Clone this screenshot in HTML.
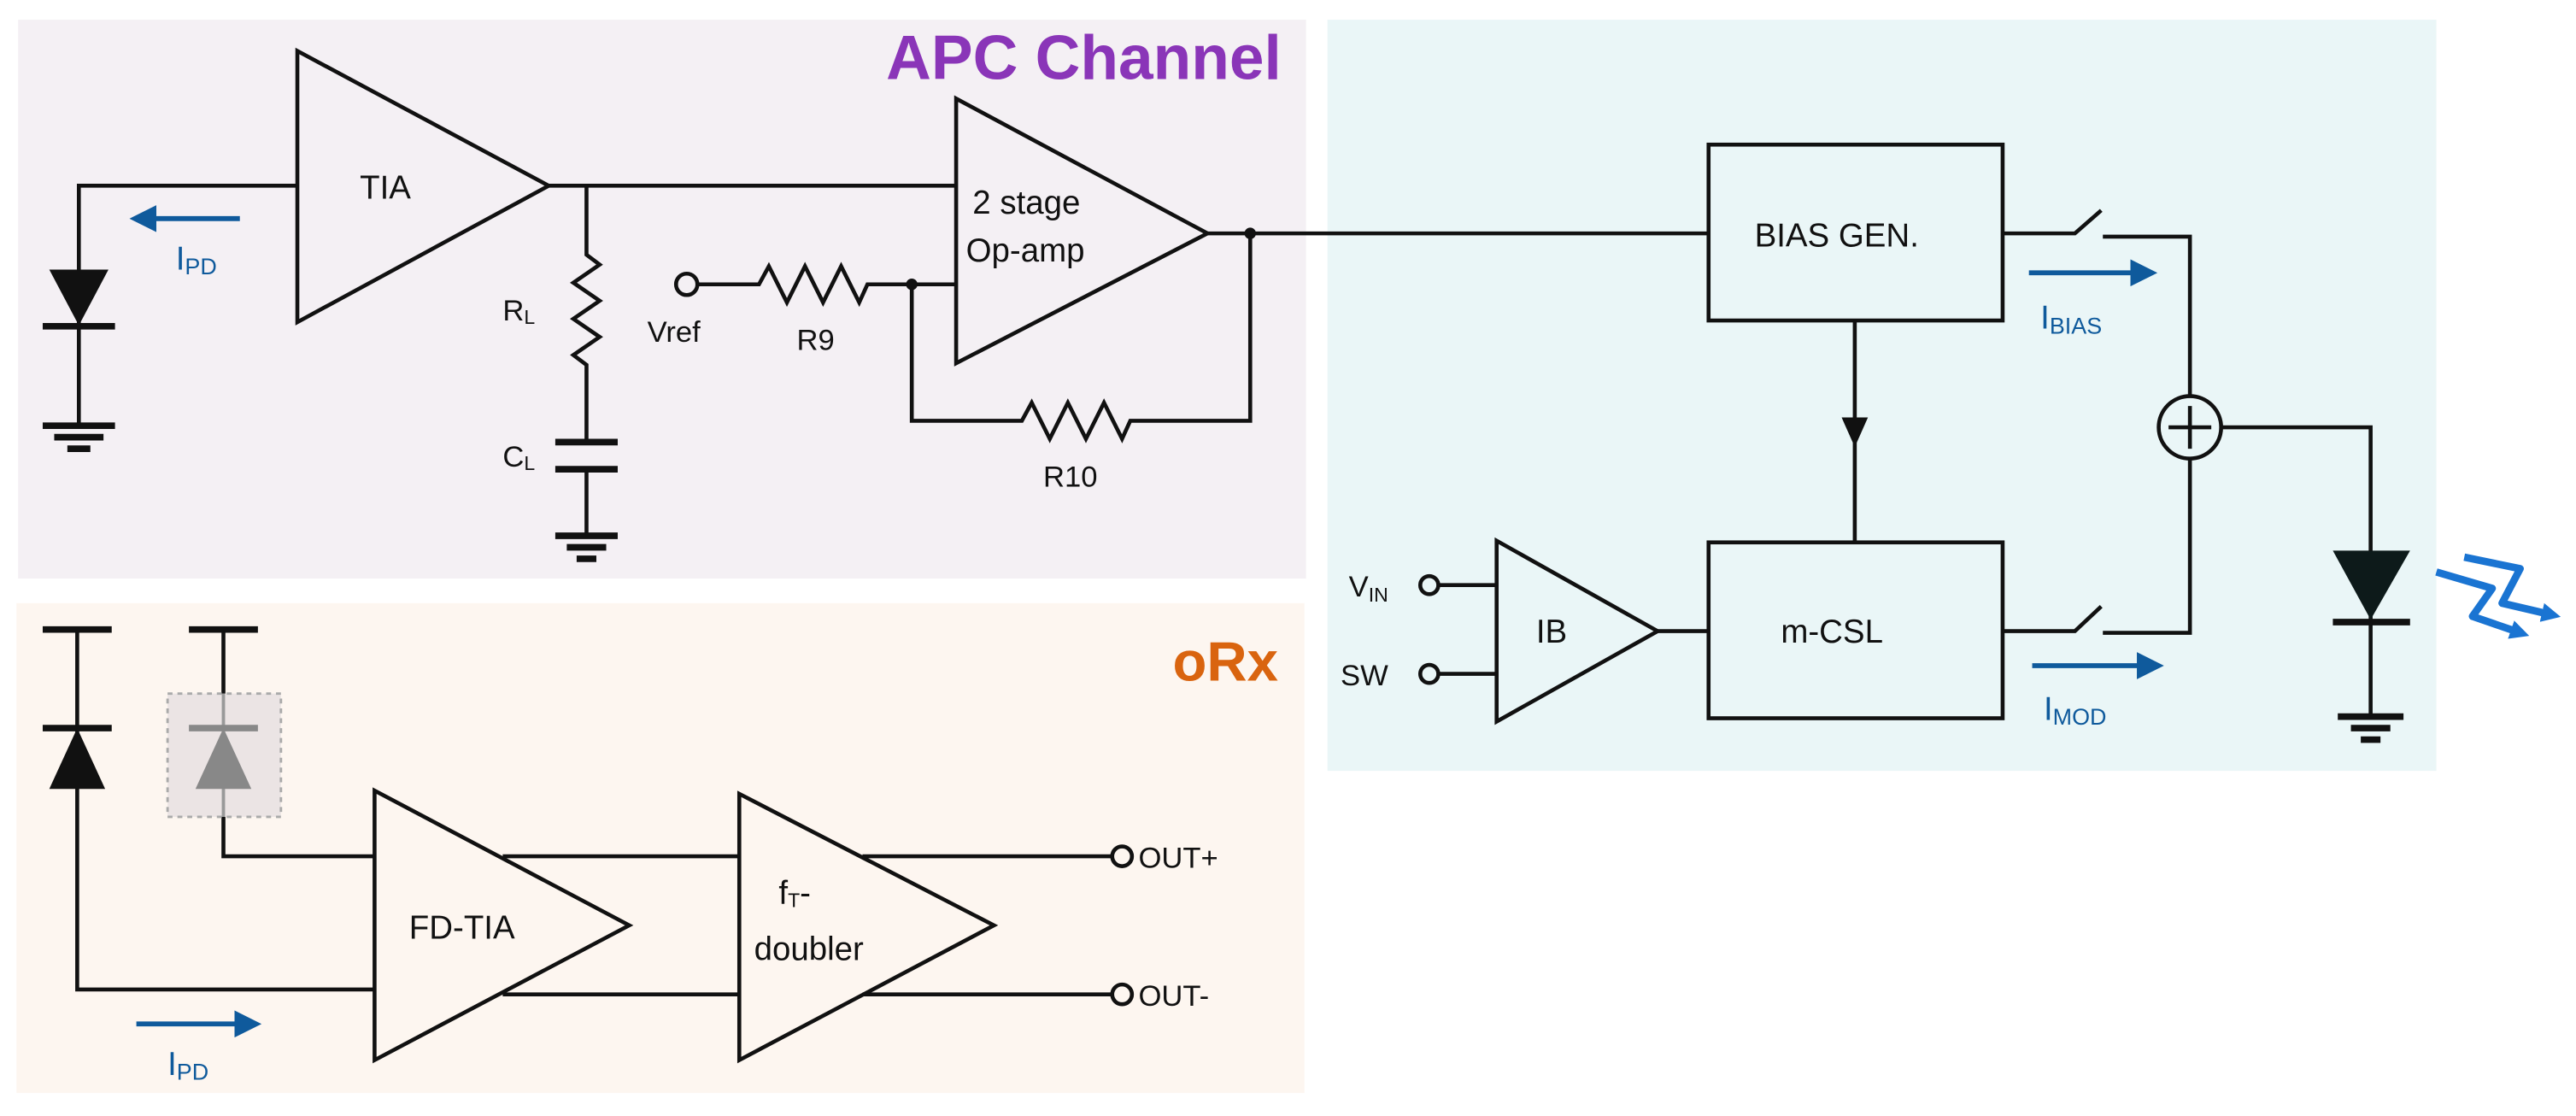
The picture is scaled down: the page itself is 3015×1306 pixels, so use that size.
<!DOCTYPE html>
<html><head><meta charset="utf-8"><style>
html,body{margin:0;padding:0;background:#fff;}
svg{display:block;}
text{font-family:"Liberation Sans Narrow","Liberation Sans",sans-serif;fill:#111;}
</style></head><body>
<svg width="3015" height="1306" viewBox="0 0 1568 679" preserveAspectRatio="none" xmlns="http://www.w3.org/2000/svg">
<defs>
<marker id="bh" viewBox="0 0 10 10" refX="2" refY="5" markerWidth="5.5" markerHeight="5.5" orient="auto" markerUnits="strokeWidth"><path d="M0,0 L10,5 L0,10 z" fill="#0f5a9c"/></marker>
<marker id="lh" viewBox="0 0 10 10" refX="5" refY="5" markerWidth="2.6" markerHeight="2.6" orient="auto" markerUnits="strokeWidth"><path d="M0,0 L10,5 L0,10 z" fill="#1a74d2"/></marker>
</defs>
<rect x="11" y="12" width="784" height="340" fill="#f4f0f4"/>
<rect x="10" y="367" width="784" height="298" fill="#fdf6f0"/>
<rect x="808" y="12" width="675" height="457" fill="#eaf6f7"/>
<text x="780" y="48" text-anchor="end" style="font-family:'Liberation Sans',sans-serif;font-weight:bold;font-size:38px;fill:#8a35b8">APC Channel</text>
<text x="778" y="414" text-anchor="end" style="font-family:'Liberation Sans',sans-serif;font-weight:bold;font-size:34px;fill:#d9640f">oRx</text>

<g stroke="#111" stroke-width="2.4" fill="none">
<polyline points="48,259 48,113 181,113"/>
<polygon points="181,31 181,196 334,113"/>
<line x1="334" y1="113" x2="582" y2="113"/>
<polyline points="357,113 357,155 365,161 349,172 365,183 349,194 365,205 349,216 357,222 357,269"/>
<line x1="357" y1="285" x2="357" y2="326"/>
<polygon points="582,60 582,221 735,142"/>
<circle cx="418" cy="173" r="6.5"/>
<polyline points="424,173 462,173 468,162 479,184 490,162 501,184 512,162 523,184 528,173 582,173"/>
<polyline points="555,173 555,256 622,256 628,245 639,267 650,245 661,267 672,245 683,267 688,256 761,256 761,142"/>
<line x1="735" y1="142" x2="1040" y2="142"/>
<rect x="1040" y="88" width="179" height="107"/>
<rect x="1040" y="330" width="179" height="107"/>
<line x1="1129" y1="195" x2="1129" y2="330"/>
<polyline points="1219,142 1263,142 1279,128"/>
<polyline points="1280,144 1333,144 1333,240"/>
<circle cx="1333" cy="260" r="19"/>
<line x1="1320" y1="260" x2="1346" y2="260"/>
<line x1="1333" y1="247" x2="1333" y2="273"/>
<polyline points="1352,260 1443,260 1443,436"/>
<polyline points="1219,384 1263,384 1279,369"/>
<polyline points="1280,385 1333,385 1333,279"/>
<polygon points="911,329 911,439 1009,384"/>
<line x1="1009" y1="384" x2="1040" y2="384"/>
<circle cx="870" cy="356" r="5.5"/>
<circle cx="870" cy="410" r="5.5"/>
<line x1="876" y1="356" x2="911" y2="356"/>
<line x1="876" y1="410" x2="911" y2="410"/>
<polyline points="47,383 47,602 228,602"/>
<line x1="136" y1="383" x2="136" y2="443"/>
<polyline points="136,497 136,521 228,521"/>
<polygon points="228,481 228,645 383,563"/>
<line x1="306" y1="521" x2="450" y2="521"/>
<line x1="306" y1="605" x2="450" y2="605"/>
<polygon points="450,483 450,645 605,563"/>
<line x1="525" y1="521" x2="677" y2="521"/>
<line x1="525" y1="605" x2="677" y2="605"/>
<circle cx="683" cy="521" r="6"/>
<circle cx="683" cy="605" r="6"/>
</g>
<g stroke="#111" stroke-width="4" fill="none">
<line x1="26" y1="198.5" x2="70" y2="198.5"/>
<line x1="26" y1="259" x2="70" y2="259"/>
<line x1="33" y1="266" x2="63" y2="266"/>
<line x1="41" y1="273" x2="55" y2="273"/>
<line x1="338" y1="269" x2="376" y2="269"/>
<line x1="338" y1="285.5" x2="376" y2="285.5"/>
<line x1="338" y1="326" x2="376" y2="326"/>
<line x1="345" y1="333" x2="369" y2="333"/>
<line x1="351" y1="340" x2="363" y2="340"/>
<line x1="1420" y1="378.5" x2="1467" y2="378.5"/>
<line x1="1423" y1="436" x2="1463" y2="436"/>
<line x1="1431" y1="443" x2="1455" y2="443"/>
<line x1="1437" y1="450" x2="1449" y2="450"/>
<line x1="26" y1="383" x2="68" y2="383"/>
<line x1="26" y1="443" x2="68" y2="443"/>
<line x1="115" y1="383" x2="157" y2="383"/>
</g>
<polygon points="30,164 66,164 48,198" fill="#111"/>
<polygon points="1420,335 1467,335 1443,377" fill="#0d1a1a"/>
<polygon points="30,480 64,480 47,443" fill="#111"/>
<polygon points="1129,272 1121,254 1137,254" fill="#111"/>
<circle cx="555" cy="173" r="3.5" fill="#111"/>
<circle cx="761" cy="142" r="3.5" fill="#111"/>
<rect x="102" y="422" width="69" height="75" fill="#ebe4e4" stroke="#aaa" stroke-width="1.5" stroke-dasharray="3,3"/>
<line x1="136" y1="422" x2="136" y2="497" stroke="#999" stroke-width="2"/>
<line x1="115" y1="443" x2="157" y2="443" stroke="#888" stroke-width="4"/>
<polygon points="119,480 153,480 136,443" fill="#888"/>
<g stroke="#0f5a9c" stroke-width="3" fill="none">
<line x1="146" y1="133" x2="92" y2="133" marker-end="url(#bh)"/>
<line x1="83" y1="623" x2="146" y2="623" marker-end="url(#bh)"/>
<line x1="1235" y1="166" x2="1300" y2="166" marker-end="url(#bh)"/>
<line x1="1237" y1="405" x2="1304" y2="405" marker-end="url(#bh)"/>
</g>
<g stroke="#1a74d2" stroke-width="4.5" fill="none" stroke-linejoin="round">
<polyline points="1483,348 1517,358 1505,375 1534,385" marker-end="url(#lh)"/>
<polyline points="1500,339 1534,346 1523,367 1553,374" marker-end="url(#lh)"/>
</g>
<g font-size="20">
<text x="219" y="121">TIA</text>
<text x="592" y="130">2 stage</text>
<text x="588" y="159">Op-amp</text>
<text x="1068" y="150">BIAS GEN.</text>
<text x="1084" y="391">m-CSL</text>
<text x="935" y="391">IB</text>
<text x="249" y="571">FD-TIA</text>
<text x="459" y="584">doubler</text>
<text x="474" y="550">f<tspan font-size="12" dy="2">T</tspan><tspan dy="-2">-</tspan></text>
</g>
<g font-size="18">
<text x="394" y="208">Vref</text>
<text x="485" y="213">R9</text>
<text x="635" y="296">R10</text>
<text x="306" y="195">R<tspan font-size="12" dy="2">L</tspan></text>
<text x="306" y="284">C<tspan font-size="12" dy="2">L</tspan></text>
<text x="821" y="363">V<tspan font-size="12" dy="3">IN</tspan></text>
<text x="816" y="417">SW</text>
<text x="693" y="528">OUT+</text>
<text x="693" y="612">OUT-</text>
</g>
<g font-size="20">
<text x="107" y="164" style="fill:#0f5a9c">I<tspan font-size="14" dy="3">PD</tspan></text>
<text x="102" y="654" style="fill:#0f5a9c">I<tspan font-size="14" dy="3">PD</tspan></text>
<text x="1242" y="200" style="fill:#0f5a9c">I<tspan font-size="14" dy="3">BIAS</tspan></text>
<text x="1244" y="438" style="fill:#0f5a9c">I<tspan font-size="14" dy="3">MOD</tspan></text>
</g>
</svg>
</body></html>
